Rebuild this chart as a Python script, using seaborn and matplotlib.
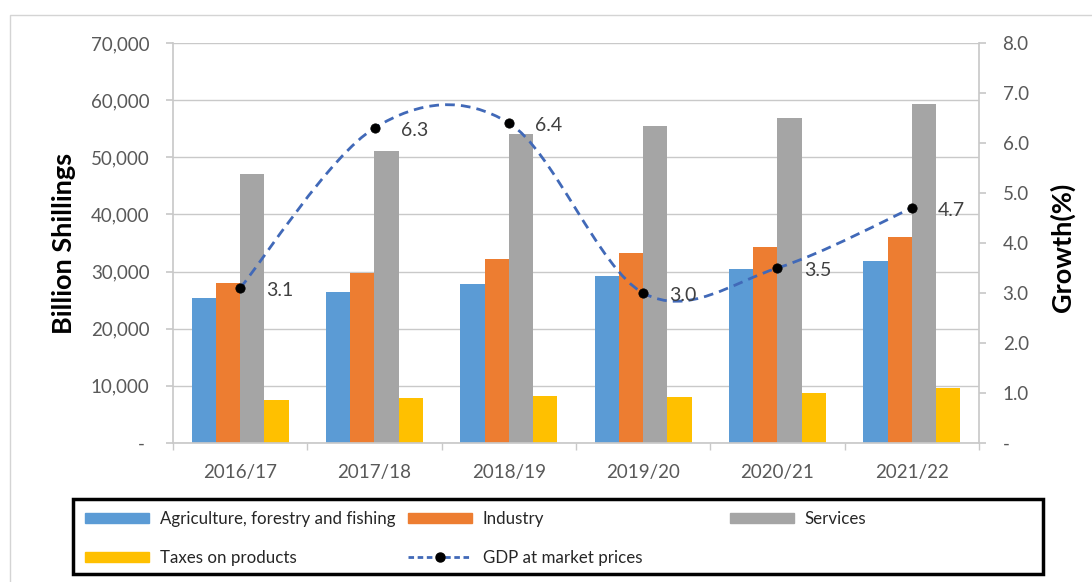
import numpy as np
import pandas as pd
import matplotlib
matplotlib.use("Agg")
import matplotlib.pyplot as plt
import seaborn as sns
from matplotlib.path import Path
from matplotlib.patches import PathPatch, Rectangle, Patch
from matplotlib.lines import Line2D

# values (billion shillings / growth %)
years = ["2016/17", "2017/18", "2018/19", "2019/20", "2020/21", "2021/22"]
agriculture = [25400, 26400, 27800, 29200, 30500, 31900]
industry = [28000, 29800, 32200, 33300, 34300, 36100]
services = [47100, 51100, 54000, 55500, 56900, 59300]
taxes = [7500, 7900, 8200, 8100, 8700, 9600]
gdp_growth = [3.1, 6.3, 6.4, 3.0, 3.5, 4.7]

sectors = ["Agriculture, forestry and fishing", "Industry", "Services", "Taxes on products"]
colors = ["#5B9BD5", "#ED7D31", "#A5A5A5", "#FFC000"]
line_color = "#4169B8"
text_color = "#595959"

sns.set_theme(style="white")
plt.rcParams["font.family"] = ["Lato", "DejaVu Sans"]

df = pd.DataFrame({
    "year": years * 4,
    "sector": np.repeat(sectors, len(years)),
    "value": agriculture + industry + services + taxes,
})


def smooth_path(xs, ys):
    # Excel-style smoothed line: cubic bezier through every data point
    pts = np.column_stack([xs, ys]).astype(float)
    n = len(pts)
    verts = [pts[0]]
    codes = [Path.MOVETO]
    for i in range(n - 1):
        p0 = pts[max(i - 1, 0)]
        p1 = pts[i]
        p2 = pts[i + 1]
        p3 = pts[min(i + 2, n - 1)]
        verts += [p1 + (p2 - p0) / 6, p2 - (p3 - p1) / 6, p2]
        codes += [Path.CURVE4] * 3
    return Path(verts, codes)


W, H = 1092, 582
fig = plt.figure(figsize=(W / 100, H / 100), dpi=100)
ax = fig.add_axes([173 / W, 1 - 443 / H, (979 - 173) / W, 400 / H])

sns.barplot(data=df, x="year", y="value", hue="sector", order=years, hue_order=sectors,
            palette=colors, width=0.72, saturation=1, gap=0, errorbar=None,
            legend=False, linewidth=0, ax=ax)
ax.set_xlim(-0.5, 5.5)
ax.set_ylim(0, 70000)
ax.set_axisbelow(True)
ax.yaxis.grid(True, color="#c9c9c9", lw=1)
ax.set_xlabel("")
ax.set_ylabel("Billion Shillings", fontsize=19.5, fontweight="bold", color="black")
ax.yaxis.set_label_coords((76 - 173) / 806, 0.5)

yt = list(range(0, 70001, 10000))
ax.set_yticks(yt)
ax.set_yticklabels(["- "] + [f"{v:,}" for v in yt[1:]])
ax.tick_params(axis="y", length=5, pad=12, color="#c9c9c9", labelcolor=text_color,
               labelsize=13.5, left=True)
ax.set_xticks(range(len(years)))
ax.set_xticklabels(years)
ax.tick_params(axis="x", which="major", length=0, pad=15, labelcolor=text_color, labelsize=13.5)
ax.set_xticks(np.arange(-0.5, 6, 1), minor=True)
ax.tick_params(axis="x", which="minor", length=5, color="#c9c9c9", bottom=True)

for side in ["top", "right"]:
    ax.spines[side].set_visible(False)
for side in ["left", "bottom"]:
    ax.spines[side].set_color("#c9c9c9")

ax2 = ax.twinx()
ax2.set_ylim(0, 8)
rt = list(range(0, 9))
ax2.set_yticks(rt)
ax2.set_yticklabels(["-"] + [f"{v:.1f}" for v in rt[1:]])
ax2.tick_params(axis="y", length=5, pad=12, color="#c9c9c9", labelcolor=text_color,
                labelsize=13.5, right=True)
for side in ["top", "left", "bottom"]:
    ax2.spines[side].set_visible(False)
ax2.spines["right"].set_color("#c9c9c9")
ax2.set_ylabel("Growth(%)", fontsize=19.5, fontweight="bold", color="black")
ax2.yaxis.set_label_coords((1050 - 173) / 806, 0.49)

xs = np.arange(len(years))
ax2.add_patch(PathPatch(smooth_path(xs, gdp_growth), fill=False, ec=line_color,
                        lw=2, ls=(0, (3.5, 2.2)), zorder=3))
sns.scatterplot(x=xs, y=gdp_growth, color="black", s=45, edgecolor="black",
                zorder=4, legend=False, ax=ax2)
for x, g in zip(xs, gdp_growth):
    ax2.annotate(f"{g:.1f}", (x, g), xytext=(19, -1.5), textcoords="offset points",
                 ha="left", va="center", fontsize=14, color="#404040", zorder=5)

# legend: three columns inside a heavy black frame
leg_kw = dict(loc="upper left", bbox_transform=fig.transFigure, frameon=False,
              borderpad=0, borderaxespad=0, fontsize=12.2, handlelength=3.8,
              handleheight=0.5, handletextpad=0.6, labelspacing=1.35,
              labelcolor="#262626")
gdp_handle = Line2D([], [], color=line_color, lw=2, ls=(0, (2, 1.3)), marker="o",
                    markersize=6.5, markerfacecolor="black", markeredgecolor="black")
col1 = [Patch(color=colors[0]), Patch(color=colors[3])]
col2 = [Patch(color=colors[1]), gdp_handle]
col3 = [Patch(color=colors[2])]
fig.legend(handles=col1, labels=[sectors[0], sectors[3]],
           bbox_to_anchor=(85 / W, 1 - 511 / H), **leg_kw)
fig.legend(handles=col2, labels=[sectors[1], "GDP at market prices"],
           bbox_to_anchor=(408 / W, 1 - 511 / H), **leg_kw)
fig.legend(handles=col3, labels=[sectors[2]],
           bbox_to_anchor=(730 / W, 1 - 511 / H), **leg_kw)
fig.add_artist(Rectangle((73 / W, 1 - 574 / H), 970 / W, 75 / H, transform=fig.transFigure,
                         fill=False, ec="black", lw=2.5))
fig.add_artist(Rectangle((10 / W, -0.05), 1.2, 1 - 15 / H + 0.05, transform=fig.transFigure,
                         fill=False, ec="#d4d4d4", lw=1))

fig.savefig("out.png", dpi=100)
